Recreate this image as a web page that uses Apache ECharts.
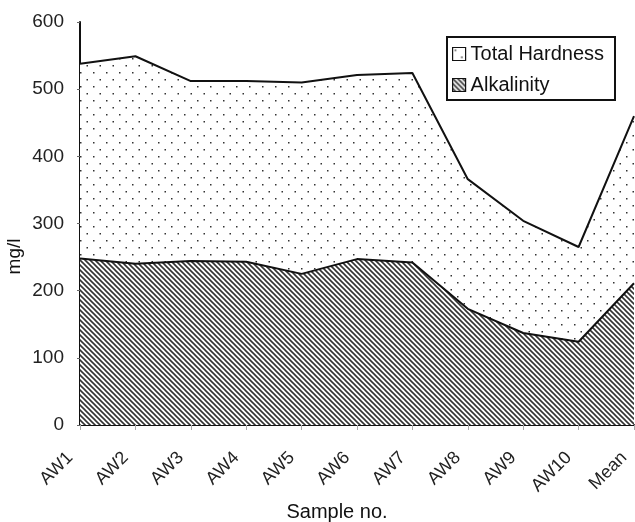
<!DOCTYPE html>
<html><head><meta charset="utf-8">
<script src="https://cdn.jsdelivr.net/npm/echarts@6/dist/echarts.min.js"></script>
<style>html,body{margin:0;padding:0;background:#fff}#c{width:635px;height:522px}</style>
</head><body><div id="c"></div>
<script>
const categories = ['AW1','AW2','AW3','AW4','AW5','AW6','AW7','AW8','AW9','AW10','Mean'];
const totalHardness = [538, 549, 512, 512, 510, 521, 524, 366, 304, 265, 460];
const alkalinity = [248, 240, 244, 243, 225, 247, 242, 173, 137, 124, 211];
const yTicks = [0, 100, 200, 300, 400, 500, 600];

function dotPattern(){
  const c = document.createElement('canvas'); c.width = 13; c.height = 14;
  const g = c.getContext('2d'); g.fillStyle = '#fff'; g.fillRect(0,0,13,14);
  g.fillStyle = '#333';
  g.fillRect(2,2,1.5,1.5); g.fillRect(8.5,9,1.5,1.5);
  return c;
}
function hatchPattern(){
  const s = 5;
  const c = document.createElement('canvas'); c.width = s; c.height = s;
  const g = c.getContext('2d'); g.fillStyle = '#fff'; g.fillRect(0,0,s,s);
  g.strokeStyle = '#333'; g.lineWidth = 1.6;
  g.beginPath();
  g.moveTo(-1,-1); g.lineTo(s+1,s+1);
  g.moveTo(-1,s-1); g.lineTo(1,s+1);
  g.moveTo(s-1,-1); g.lineTo(s+1,1);
  g.stroke();
  return c;
}
const dots = {image: dotPattern(), repeat: 'repeat'};
const hatch = {image: hatchPattern(), repeat: 'repeat'};

const chart = echarts.init(document.getElementById('c'), null, {renderer:'canvas'});
const font = 'Liberation Sans, Arial, sans-serif';
chart.setOption({
  animation: false,
  textStyle: {fontFamily: font},
  grid: {left: 80, right: 1, top: 22, bottom: 97, containLabel: false, outerBoundsMode: 'none'},
  legend: {
    orient: 'vertical', left: 447, top: 37,
    padding: [7, 11, 5, 5], itemGap: 11,
    itemWidth: 13, itemHeight: 13,
    borderColor: '#111', borderWidth: 2, backgroundColor: '#fff',
    textStyle: {fontSize: 20, color: '#111', fontFamily: font},
    data: [
      {name: 'Total Hardness', icon: 'rect', itemStyle: {color: dots, borderColor: '#111', borderWidth: 1.2}},
      {name: 'Alkalinity', icon: 'rect', itemStyle: {color: hatch, borderColor: '#111', borderWidth: 1.2}}
    ]
  },
  xAxis: {
    type: 'category', data: categories, boundaryGap: false,
    name: 'Sample no.', nameLocation: 'middle', nameGap: 72,
    nameTextStyle: {fontSize: 20, color: '#111', fontFamily: font, padding: [0, 40, 0, 0]},
    axisLine: {lineStyle: {color: '#111', width: 2}},
    axisTick: {show: true, length: 5, lineStyle: {color: '#aaa', width: 1}},
    axisLabel: {rotate: 45, fontSize: 18, color: '#222', margin: 20, padding: [0, 14, 0, 0], fontFamily: font},
    splitLine: {show: false}
  },
  yAxis: {
    type: 'value', min: 0, max: 600, interval: 100,
    name: 'mg/l', nameLocation: 'middle', nameGap: 56, nameRotate: 90, nameMoveOverlap: false,
    nameTextStyle: {fontSize: 19, color: '#111', fontFamily: font, padding: [0, 66, 0, 0]},
    axisLine: {show: true, lineStyle: {color: '#111', width: 2}},
    axisTick: {show: true, length: 3, lineStyle: {color: '#666'}},
    axisLabel: {fontSize: 19, color: '#222', margin: 16, fontFamily: font,
      formatter: v => yTicks.includes(v) ? String(v) : ''},
    splitLine: {show: false}
  },
  series: [
    {name: 'Total Hardness', type: 'line', data: totalHardness, symbol: 'none',
      lineStyle: {color: '#111', width: 2}, itemStyle: {color: dots},
      areaStyle: {color: dots, opacity: 1}, z: 1},
    {name: 'Alkalinity', type: 'line', data: alkalinity, symbol: 'none',
      lineStyle: {color: '#111', width: 2}, itemStyle: {color: hatch},
      areaStyle: {color: hatch, opacity: 1}, z: 2}
  ]
});
</script></body></html>
